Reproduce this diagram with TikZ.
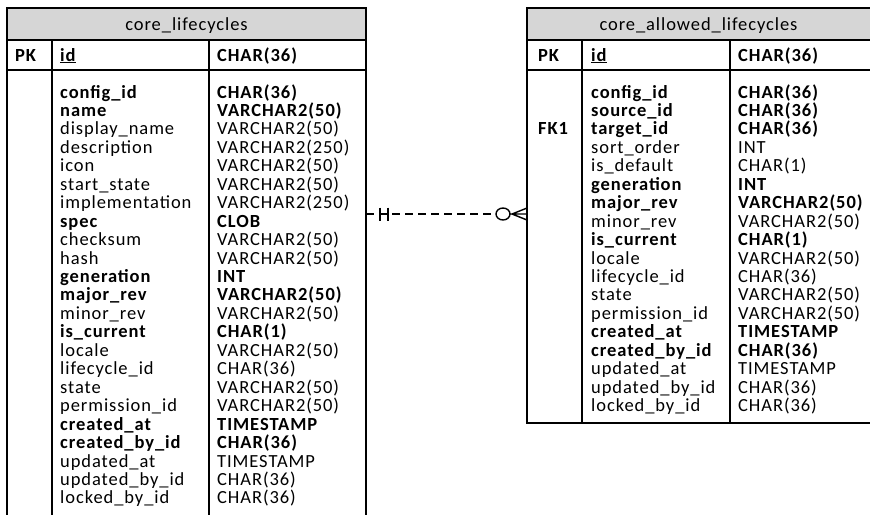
\documentclass[tikz,border=0pt]{standalone}
\usepackage{fontspec}
\setmainfont{Carlito}[LetterSpace=5]
\usepackage{xcolor}
\usepackage{tikz}
\usetikzlibrary{positioning}

\definecolor{entete}{HTML}{D6D6D6}

\begin{document}
\begin{tikzpicture}[x=1pt, y=-1pt,
        cadre/.style={draw, line width=1.2pt},
        titre/.style={anchor=base, inner sep=0pt, font=\fontsize{18.5}{20}\selectfont},
        champ/.style={anchor=base west, inner sep=0pt, font=\fontsize{18.5}{20}\selectfont},
        gras/.style={font=\fontsize{18.5}{20}\selectfont\bfseries},
        maigre/.style={},
        lien/.style={line width=1.4pt}]
        \clip (0,0) rectangle (870,514);

        % Table core_lifecycles
        \draw[cadre, fill=entete] (7,8) rectangle (366,40);
        \draw[cadre] (7,40) rectangle (366,530);
        \draw[cadre] (7,70) -- (366,70) (52,40) -- (52,530) (209,40) -- (209,530);
        \node[titre] (lc) at (186.5,30) {core\_lifecycles};
        \node[champ, gras] (lc_pk) at (15,61) {PK};
        \node[champ, gras] (lc_id) at (60,61) {\underline{id}};
        \node[champ, gras] (lc_idt) at (217,61) {CHAR(36)};
        \foreach \nom/\typ/\st [count=\i] in {config\_id/CHAR(36)/gras, name/VARCHAR2(50)/gras,
                display\_name/VARCHAR2(50)/maigre, description/VARCHAR2(250)/maigre,
                icon/VARCHAR2(50)/maigre, start\_state/VARCHAR2(50)/maigre,
                implementation/VARCHAR2(250)/maigre, spec/CLOB/gras,
                checksum/VARCHAR2(50)/maigre, hash/VARCHAR2(50)/maigre,
                generation/INT/gras, major\_rev/VARCHAR2(50)/gras,
                minor\_rev/VARCHAR2(50)/maigre, is\_current/CHAR(1)/gras,
                locale/VARCHAR2(50)/maigre, lifecycle\_id/CHAR(36)/maigre,
                state/VARCHAR2(50)/maigre, permission\_id/VARCHAR2(50)/maigre,
                created\_at/TIMESTAMP/gras, created\_by\_id/CHAR(36)/gras,
                updated\_at/TIMESTAMP/maigre, updated\_by\_id/CHAR(36)/maigre,
                locked\_by\_id/CHAR(36)/maigre}
            {\node[champ, \st] (lc_n\i) at (60,{98+(\i-1)*18.45}) {\nom};
             \node[champ, \st] (lc_t\i) at (217,{98+(\i-1)*18.45}) {\typ};}

        % Table core_allowed_lifecycles
        \draw[cadre, fill=entete] (527,8) rectangle (890,40);
        \draw[cadre] (527,40) rectangle (890,423);
        \draw[cadre] (527,70) -- (890,70) (582,40) -- (582,423) (730,40) -- (730,423);
        \node[titre] (alc) at (698.5,30) {core\_allowed\_lifecycles};
        \node[champ, gras] (alc_pk) at (538,61) {PK};
        \node[champ, gras] (alc_id) at (591,61) {\underline{id}};
        \node[champ, gras] (alc_idt) at (738,61) {CHAR(36)};
        \node[champ, gras] (alc_fk) at (538,{98+2*18.45}) {FK1};
        \foreach \nom/\typ/\st [count=\i] in {config\_id/CHAR(36)/gras, source\_id/CHAR(36)/gras,
                target\_id/CHAR(36)/gras, sort\_order/INT/maigre,
                is\_default/CHAR(1)/maigre, generation/INT/gras,
                major\_rev/VARCHAR2(50)/gras, minor\_rev/VARCHAR2(50)/maigre,
                is\_current/CHAR(1)/gras, locale/VARCHAR2(50)/maigre,
                lifecycle\_id/CHAR(36)/maigre, state/VARCHAR2(50)/maigre,
                permission\_id/VARCHAR2(50)/maigre, created\_at/TIMESTAMP/gras,
                created\_by\_id/CHAR(36)/gras, updated\_at/TIMESTAMP/maigre,
                updated\_by\_id/CHAR(36)/maigre, locked\_by\_id/CHAR(36)/maigre}
            {\node[champ, \st] (alc_n\i) at (591,{98+(\i-1)*18.45}) {\nom};
             \node[champ, \st] (alc_t\i) at (738,{98+(\i-1)*18.45}) {\typ};}

        % Relation
        \coordinate (lien_a) at (366,214);
        \coordinate (lien_b) at (527,214);
        \draw[lien, dash pattern=on 8pt off 5pt] (lien_a) -- ([xshift=-31pt]lien_b);
        \draw[lien] ([xshift=14pt]lien_a) -- ([xshift=22pt]lien_a)
            ([xshift=14pt,yshift=6.5pt]lien_a) -- ([xshift=14pt,yshift=-6.5pt]lien_a)
            ([xshift=22pt,yshift=6.5pt]lien_a) -- ([xshift=22pt,yshift=-6.5pt]lien_a);
        \draw[lien, fill=white] ([xshift=-24pt]lien_b) circle [x radius=7pt, y radius=6pt];
        \draw[lien] ([xshift=-15pt]lien_b) -- ([yshift=6pt]lien_b)
            ([xshift=-15pt]lien_b) -- ([yshift=-6pt]lien_b)
            ([xshift=-17pt]lien_b) -- (lien_b);
    \end{tikzpicture}
\end{document}
